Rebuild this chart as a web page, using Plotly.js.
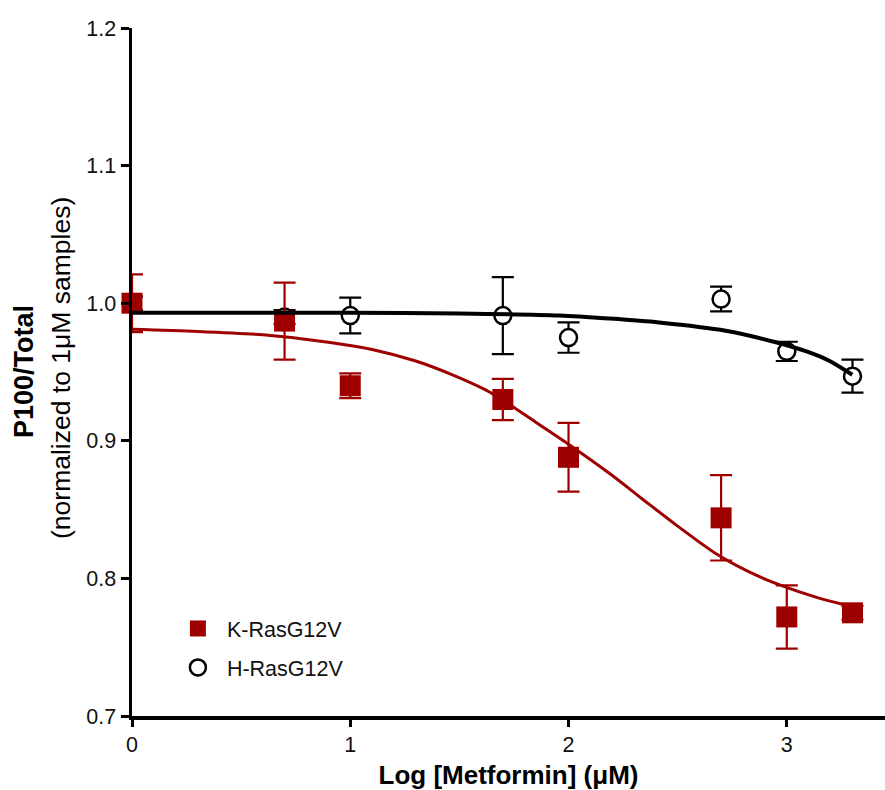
<!DOCTYPE html>
<html>
<head>
<meta charset="utf-8">
<script src="https://cdn.plot.ly/plotly-3.0.1.min.js"></script>
<style>html,body{margin:0;padding:0;background:#fff;}#chart{width:885px;height:790px;}</style>
</head>
<body>
<div id="chart"></div>
<script>
// Log [Metformin] (uM)
var doseLog = [0, 0.699, 1, 1.699, 2, 2.699, 3, 3.301];
// K-RasG12V means and error
var kras = [1.000, 0.987, 0.940, 0.930, 0.888, 0.844, 0.772, 0.775];
var krasErr = [0.021, 0.028, 0.009, 0.015, 0.025, 0.031, 0.023, 0.005];
// H-RasG12V means and error
var hras = [1.000, 0.990, 0.991, 0.991, 0.975, 1.003, 0.965, 0.947];
var hrasErr = [0.005, 0.005, 0.013, 0.028, 0.011, 0.009, 0.007, 0.012];
// fitted curves
var kFitX = [0, 0.3, 0.6, 0.9, 1.1, 1.3, 1.46, 1.62, 1.7, 1.85, 2.0, 2.19, 2.34, 2.5, 2.68, 2.83, 2.98, 3.14, 3.26, 3.3];
var kFitY = [0.981, 0.9795, 0.977, 0.9717, 0.9664, 0.958, 0.9485, 0.937, 0.9295, 0.9135, 0.8975, 0.876, 0.8575, 0.838, 0.8175, 0.8045, 0.7945, 0.786, 0.781, 0.7795];
var hFitX = [0, 0.5, 1.0, 1.5, 1.96, 2.19, 2.415, 2.72, 2.95, 3.1, 3.19, 3.3];
var hFitY = [0.993, 0.993, 0.993, 0.9925, 0.991, 0.9888, 0.986, 0.980, 0.9716, 0.9644, 0.9585, 0.948];
var tickVals = [0.7, 0.8, 0.9, 1.0, 1.1, 1.2];
var tickText = ['0.7', '0.8', '0.9', '1.0', '1.1', '1.2'];

var red = '#9e0000';
var traces = [
  {x: doseLog, y: hras, type: 'scatter', mode: 'markers', name: 'H-RasG12V', legendrank: 2, legendgroup: 'h',
   error_y: {type: 'data', array: hrasErr, visible: true, color: '#000', thickness: 2.2, width: 11},
   marker: {symbol: 'circle', size: 17, color: '#fff', line: {color: '#000', width: 2.5}}, cliponaxis: false},
  {x: doseLog, y: kras, type: 'scatter', mode: 'markers', name: 'K-RasG12V', legendrank: 1, legendgroup: 'k',
   error_y: {type: 'data', array: krasErr, visible: true, color: red, thickness: 2.2, width: 11},
   marker: {symbol: 'square', size: 21, color: red}, cliponaxis: false},
  {x: kFitX, y: kFitY, type: 'scatter', mode: 'lines', line: {color: red, width: 3, shape: 'spline', smoothing: 0.8}, showlegend: false, hoverinfo: 'skip'},
  {x: hFitX, y: hFitY, type: 'scatter', mode: 'lines', line: {color: '#000', width: 4, shape: 'spline', smoothing: 0.8}, showlegend: false, hoverinfo: 'skip'}
];

var layout = {
  width: 885, height: 790,
  margin: {l: 132, r: 0, t: 28, b: 74},
  paper_bgcolor: '#fff', plot_bgcolor: '#fff',
  font: {family: 'Liberation Sans, Arial, sans-serif', color: '#111', size: 21.5},
  showlegend: true,
  legend: {x: 0.049, y: 0.157, xanchor: 'left', yanchor: 'top', bgcolor: 'rgba(0,0,0,0)',
           itemwidth: 48, font: {size: 21.5, color: '#111'}, tracegroupgap: 8, traceorder: 'grouped'},
  xaxis: {range: [0, 3.45], tickvals: [0, 1, 2, 3], ticktext: ['0', '1', '2', '3'],
          showgrid: false, zeroline: false, showline: true, linecolor: '#000', linewidth: 3.5,
          ticks: 'outside', ticklen: 7, tickwidth: 3, tickcolor: '#000',
          tickfont: {size: 21.5, color: '#111'},
          title: {text: 'Log [Metformin] (μM)', font: {size: 26, weight: 'bold', color: '#000'}, standoff: 14}},
  yaxis: {range: [0.7, 1.2], tickvals: tickVals, ticktext: tickText,
          showgrid: false, zeroline: false, showline: true, linecolor: '#000', linewidth: 3.5,
          ticks: 'outside', ticklen: 8, tickwidth: 3, tickcolor: '#000',
          tickfont: {size: 21.5, color: '#111'}},
  annotations: [
    {text: 'P100/Total', xref: 'paper', yref: 'paper', x: 0, y: 0.5, xanchor: 'center', yanchor: 'middle',
     xshift: -108, textangle: -90, showarrow: false, font: {size: 27, weight: 'bold', color: '#000'}},
    {text: '(normalized to 1μM samples)', xref: 'paper', yref: 'paper', x: 0, y: 0.5, xanchor: 'center', yanchor: 'middle',
     xshift: -71, yshift: 4, textangle: -90, showarrow: false, font: {size: 26.5, color: '#000'}}
  ]
};

Plotly.newPlot('chart', traces, layout, {displayModeBar: false, staticPlot: true});
</script>
</body>
</html>
